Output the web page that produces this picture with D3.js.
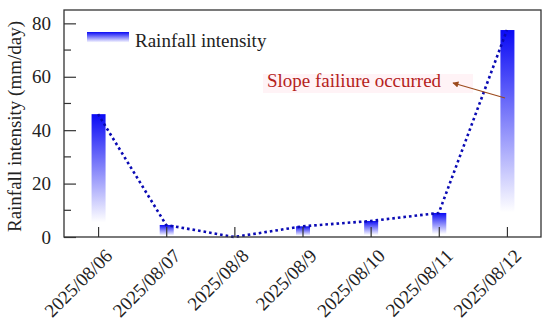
<!DOCTYPE html>
<html>
<head>
<meta charset="utf-8">
<script src="https://cdn.jsdelivr.net/npm/d3@7"></script>
<style>
  body { margin: 0; background: #fff; }
  text { font-family: "Liberation Serif", "Times New Roman", serif; }
</style>
</head>
<body>
<div id="chart"></div>
<script>
// data
var dates   = [ "2025/08/06", "2025/08/07", "2025/08/8", "2025/08/9", "2025/08/10", "2025/08/11", "2025/08/12" ];
var rain    = [ 46, 4.5, 0, 4, 6, 9, 77.5 ];
var y_ticks = [ 0, 20, 40, 60, 80 ];
var y_minor = [ 10, 30, 50, 70 ];

// --------------------------------------------------------
var chart_width  = 550;
var chart_height = 327;
var plot_left = 64, plot_right = 541, plot_top = 10, plot_bottom = 237;

var svg = d3.select("#chart")
	.append("svg")
	.attr("width", chart_width)
	.attr("height", chart_height);

// gradient for the bars
var defs = svg.append("defs");
var grad = defs.append("linearGradient")
	.attr("id", "bar-grad")
	.attr("x1", 0).attr("y1", 0)
	.attr("x2", 0).attr("y2", 1);
grad.append("stop").attr("offset", "0%").attr("stop-color", "#0a0af5");
grad.append("stop").attr("offset", "88%").attr("stop-color", "#ffffff");

defs.append("marker")
	.attr("id", "arrow")
	.attr("viewBox", "0 0 10 10")
	.attr("refX", 9).attr("refY", 5)
	.attr("markerWidth", 8).attr("markerHeight", 5)
	.attr("orient", "auto")
	.append("path")
	.attr("d", "M0,0 L10,5 L0,10 Z")
	.attr("fill", "#9c4a1c");

// --------------------------------------------------------
// scales
var x_scale = d3.scalePoint()
	.domain(dates)
	.range([plot_left, plot_right])
	.padding(0.5);

var y_scale = d3.scaleLinear()
	.domain([0, 85])
	.range([plot_bottom, plot_top]);

// --------------------------------------------------------
// bars
var bar_w = 14;
svg.append("g")
	.selectAll("rect")
	.data(rain)
	.enter()
	.append("rect")
	.attr("x", (d, i) => x_scale(dates[i]) - bar_w / 2 + 0.5)
	.attr("y", (d) => y_scale(d))
	.attr("width", bar_w)
	.attr("height", (d) => plot_bottom - y_scale(d))
	.attr("fill", "url(#bar-grad)");

// dotted line
var line = d3.line()
	.x((d, i) => x_scale(dates[i]))
	.y((d) => y_scale(d));

svg.append("path")
	.datum(rain)
	.attr("d", line)
	.attr("fill", "none")
	.attr("stroke", "#0a0ab4")
	.attr("stroke-width", 2.6)
	.attr("stroke-dasharray", "2.6,3");

// --------------------------------------------------------
// frame and axes
svg.append("rect")
	.attr("x", plot_left).attr("y", plot_top)
	.attr("width", plot_right - plot_left).attr("height", plot_bottom - plot_top)
	.attr("fill", "none")
	.attr("stroke", "#333")
	.attr("stroke-width", 1.3);

var y_axis = d3.axisLeft(y_scale)
	.tickValues(y_ticks)
	.tickSize(-12);

svg.append("g")
	.attr("class", "y-axis")
	.attr("transform", "translate(" + plot_left + ",0)")
	.call(y_axis)
	.call(g => g.select(".domain").remove())
	.call(g => g.selectAll("line").attr("stroke", "#333").attr("stroke-width", 1.2))
	.call(g => g.selectAll("text")
		.attr("font-family", "Liberation Serif, serif")
		.attr("font-size", 19)
		.attr("fill", "#222")
		.attr("x", -13));

svg.append("g")
	.selectAll("line")
	.data(y_minor)
	.enter()
	.append("line")
	.attr("x1", plot_left).attr("x2", plot_left + 7)
	.attr("y1", (d) => y_scale(d)).attr("y2", (d) => y_scale(d))
	.attr("stroke", "#333").attr("stroke-width", 1.2);

var x_axis = d3.axisBottom(x_scale)
	.tickSize(-10);

svg.append("g")
	.attr("class", "x-axis")
	.attr("transform", "translate(0," + plot_bottom + ")")
	.call(x_axis)
	.call(g => g.select(".domain").remove())
	.call(g => g.selectAll("line").attr("stroke", "#333").attr("stroke-width", 1.2))
	.call(g => g.selectAll("text")
		.attr("font-family", "Liberation Serif, serif")
		.attr("font-size", 19)
		.attr("fill", "#222")
		.attr("text-anchor", "end")
		.attr("y", 0)
		.attr("dy", "0")
		.attr("transform", "translate(15,20) rotate(-45)"));

// y axis title
svg.append("text")
	.attr("transform", "translate(21," + 126.5 + ") rotate(-90)")
	.attr("text-anchor", "middle")
	.attr("font-size", 19)
	.attr("fill", "#222")
	.text("Rainfall intensity (mm/day)");

// --------------------------------------------------------
// legend
svg.append("rect")
	.attr("x", 87).attr("y", 32)
	.attr("width", 42).attr("height", 12)
	.attr("fill", "url(#bar-grad)");

svg.append("text")
	.attr("x", 135).attr("y", 47)
	.attr("font-size", 19)
	.attr("fill", "#222")
	.text("Rainfall intensity");

// --------------------------------------------------------
// annotation
svg.append("rect")
	.attr("x", 263).attr("y", 74)
	.attr("width", 210).attr("height", 19)
	.attr("fill", "#ffe8ee")
	.attr("opacity", 0.5);

svg.append("text")
	.attr("x", 267).attr("y", 87)
	.attr("font-size", 19)
	.attr("fill", "#b5221b")
	.text("Slope failiure occurred");

svg.append("line")
	.attr("x1", 505).attr("y1", 98)
	.attr("x2", 453).attr("y2", 83)
	.attr("stroke", "#9c4a1c")
	.attr("stroke-width", 1.2)
	.attr("marker-end", "url(#arrow)");
</script>
</body>
</html>
